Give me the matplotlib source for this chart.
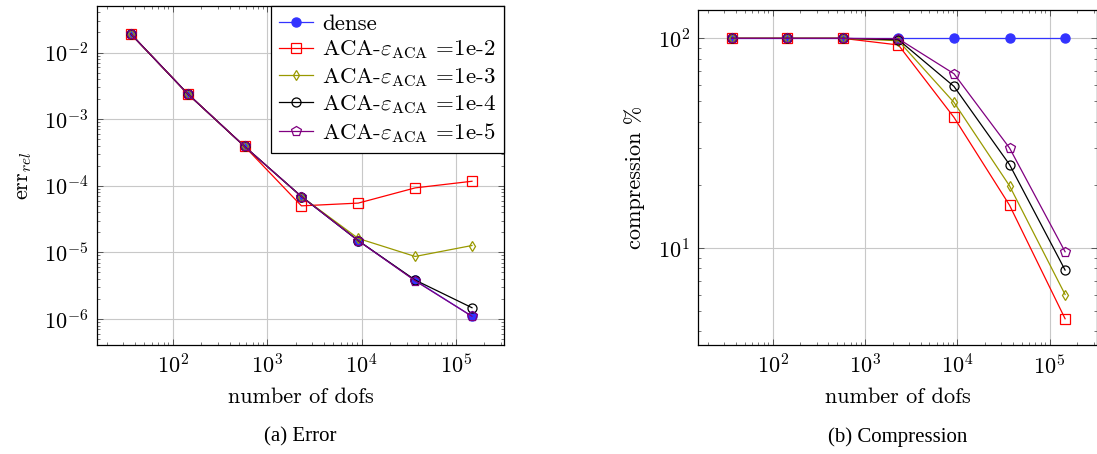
import numpy as np
import matplotlib
matplotlib.use("Agg")
import matplotlib.pyplot as plt
from matplotlib.ticker import LogLocator, NullFormatter

plt.rcParams['font.family'] = ['cmr10']
plt.rcParams['mathtext.fontset'] = 'cm'
plt.rcParams['axes.formatter.use_mathtext'] = True

# data
dofs = [36, 144, 576, 2304, 9216, 36864, 147456]
eps_labels = ['1e-2', '1e-3', '1e-4', '1e-5']

err_dense = [1.9e-2, 2.4e-3, 3.9e-4, 6.9e-5, 1.5e-5, 3.8e-6, 1.1e-6]
err_aca = [
    [1.9e-2, 2.4e-3, 3.9e-4, 5.0e-5, 5.5e-5, 9.3e-5, 1.17e-4],
    [1.9e-2, 2.4e-3, 3.9e-4, 6.9e-5, 1.62e-5, 8.7e-6, 1.27e-5],
    [1.9e-2, 2.4e-3, 3.9e-4, 6.9e-5, 1.5e-5, 3.85e-6, 1.48e-6],
    [1.9e-2, 2.4e-3, 3.9e-4, 6.9e-5, 1.5e-5, 3.75e-6, 1.1e-6],
]

comp_dense = [100, 100, 100, 100, 100, 100, 100]
comp_aca = [
    [100, 100, 100, 93, 42, 16, 4.6],
    [100, 100, 100, 97.4, 49.5, 19.8, 6.0],
    [100, 100, 100, 98.5, 59, 25, 7.85],
    [100, 100, 100, 99.5, 67.8, 30, 9.6],
]

aca_colors = ['#ff0000', '#999900', '#000000', '#800080']
aca_markers = ['s', 'd', 'o', 'p']
aca_sizes = [7, 5, 6.5, 7]
dense_color = '#3333ff'


def style_axis(ax):
    ax.set_xscale('log')
    ax.set_yscale('log')
    ax.xaxis.set_minor_locator(LogLocator(base=10, subs=np.arange(2, 10)))
    ax.yaxis.set_minor_locator(LogLocator(base=10, subs=np.arange(2, 10)))
    ax.xaxis.set_minor_formatter(NullFormatter())
    ax.yaxis.set_minor_formatter(NullFormatter())
    ax.tick_params(which='both', direction='in', top=True, right=True,
                   labelsize=16, color='#444444')
    ax.tick_params(which='major', length=4.5, width=0.6, pad=6)
    ax.tick_params(which='minor', length=2.5, width=0.5)
    ax.grid(True, which='major', color='#c8c8c8', linewidth=0.8)
    ax.set_axisbelow(True)
    for s in ax.spines.values():
        s.set_linewidth(0.9)
    ax.set_xlabel('number of dofs', fontsize=16, labelpad=7)


def plot_series(ax, dense, aca):
    ax.plot(dofs, dense, color=dense_color, marker='o', markersize=6.5,
            linewidth=0.9, label='dense')
    for i, vals in enumerate(aca):
        ax.plot(dofs, vals, color=aca_colors[i], marker=aca_markers[i],
                markersize=aca_sizes[i], markerfacecolor='none',
                markeredgewidth=0.9, linewidth=0.9,
                label=r'ACA-$\varepsilon_{\mathrm{ACA}}$ =' + eps_labels[i])


fig = plt.figure(figsize=(10.97, 4.54), dpi=100)

# (a) Error
ax1 = fig.add_axes([0.0882, 0.240, 0.3716, 0.747])
plot_series(ax1, err_dense, err_aca)
style_axis(ax1)
ax1.set_xlim(10 ** 1.195, 10 ** 5.512)
ax1.set_ylim(10 ** -6.39, 10 ** -1.30)
ax1.set_ylabel(r'$\mathrm{err}_{rel}$', fontsize=16, labelpad=7)
leg = ax1.legend(loc='upper right', borderaxespad=0, fontsize=16.5,
                 fancybox=False, framealpha=1, edgecolor='black',
                 handlelength=1.5, handletextpad=0.4, labelspacing=0.2,
                 borderpad=0.35)
leg.get_frame().set_linewidth(0.9)

# (b) Compression
ax2 = fig.add_axes([0.6366, 0.2394, 0.3632, 0.738])
plot_series(ax2, comp_dense, comp_aca)
style_axis(ax2)
ax2.set_xlim(10 ** 1.195, 10 ** 5.512)
ax2.set_ylim(10 ** 0.536, 10 ** 2.134)
ax2.set_ylabel('compression %', fontsize=16, labelpad=9)

fig.text(0.274, 0.038, '(a) Error', fontsize=15, family='Liberation Serif',
         ha='center', va='center')
fig.text(0.818, 0.038, '(b) Compression', fontsize=15,
         family='Liberation Serif', ha='center', va='center')

fig.savefig('out.png', dpi=100)
